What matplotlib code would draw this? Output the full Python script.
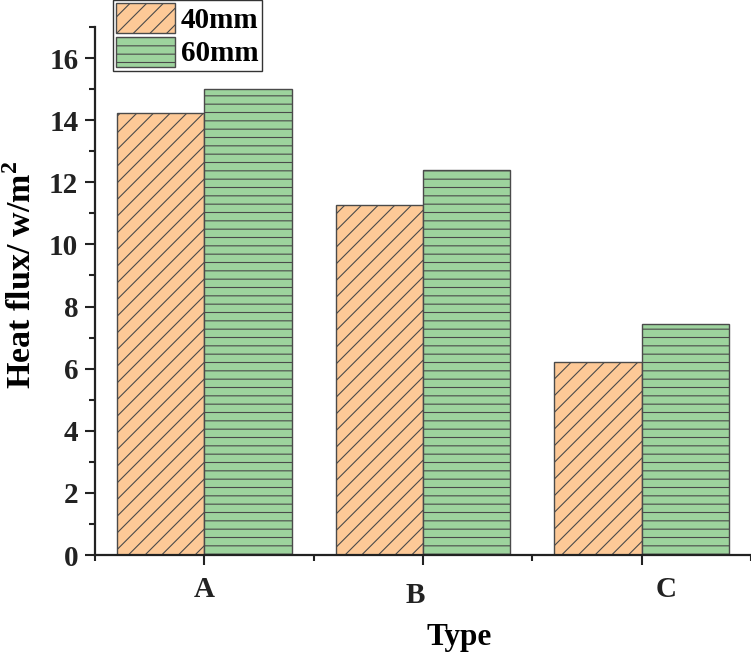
"""
plot.py — Heat flux by type, grouped bars for 40mm and 60mm
"""

import numpy as np
import matplotlib
matplotlib.use("Agg")
import matplotlib.pyplot as plt
import matplotlib.transforms as mtransforms
from matplotlib.ticker import MultipleLocator, FixedLocator

# Data
types = ["A", "B", "C"]
flux_40mm = [14.23, 11.28, 6.22]
flux_60mm = [15.01, 12.41, 7.43]
series_labels = ["40mm", "60mm"]

plt.rcParams["font.family"] = ["Liberation Serif", "DejaVu Serif"]
plt.rcParams["font.weight"] = "bold"
plt.rcParams["mathtext.fontset"] = "custom"
plt.rcParams["mathtext.rm"] = "Liberation Serif:bold"
plt.rcParams["mathtext.bf"] = "Liberation Serif:bold"
plt.rcParams["hatch.color"] = "#2a2a2a"
plt.rcParams["hatch.linewidth"] = 0.8

FS = 21

fig = plt.figure(figsize=(7.51, 6.54), dpi=100)
ax = fig.add_axes([95 / 751, 1 - 555 / 654, 1 - 95 / 751, (555 - 27) / 654])

x = np.arange(len(types))
w = 0.4
b1 = ax.bar(x - w / 2, flux_40mm, w, color="#fdc997", edgecolor="#4a4a4a",
            linewidth=1.0, hatch="//", label=series_labels[0])
b2 = ax.bar(x + w / 2, flux_60mm, w, color="#9dd39d", edgecolor="#4a4a4a",
            linewidth=1.0, hatch="--", label=series_labels[1])

ax.set_xlim(-0.5, 2.5)
ax.set_ylim(0, 17)
ax.yaxis.set_major_locator(MultipleLocator(2))
ax.yaxis.set_minor_locator(MultipleLocator(1))
ax.xaxis.set_major_locator(FixedLocator(x))
ax.xaxis.set_minor_locator(FixedLocator([-0.5, 0.5, 1.5, 2.5]))
ax.set_xticklabels(types)

for s in ("top", "right"):
    ax.spines[s].set_visible(False)
for s in ("left", "bottom"):
    ax.spines[s].set_linewidth(1.6)
    ax.spines[s].set_color("#222222")

ax.tick_params(axis="both", which="major", direction="out", length=7, width=1.5,
               labelsize=FS, colors="#222222")
ax.tick_params(axis="both", which="minor", direction="out", length=4, width=1.5,
               colors="#222222")
ax.tick_params(axis="x", which="major", pad=8)
ax.tick_params(axis="y", which="major", pad=5)
for lab in ax.get_xticklabels() + ax.get_yticklabels():
    lab.set_fontweight("bold")

# the category labels in the original sit slightly off their ticks
label_shift_px = [(0, 0), (-8, -6), (24, 0)]
for lab, (dx, dy) in zip(ax.get_xticklabels(), label_shift_px):
    off = mtransforms.ScaledTranslation(dx / 100, dy / 100, fig.dpi_scale_trans)
    lab.set_transform(lab.get_transform() + off)

ax.set_xlabel("Type", fontsize=22.5, fontweight="bold")
ax.xaxis.set_label_coords((459 - 95) / 656, -(637 - 555) / 528, transform=ax.transAxes)
ax.xaxis.label.set_va("center")
ax.set_ylabel(r"Heat flux/ w/m$^{\mathbf{2}}$", fontsize=24.5, fontweight="bold")
ax.yaxis.set_label_coords(-(95 - 22) / 656, (555 - 275) / 528, transform=ax.transAxes)
ax.yaxis.label.set_va("center")

leg = fig.legend(handles=[b1, b2], loc="upper left",
                 bbox_to_anchor=(113 / 751, 1.0),
                 prop={"weight": "bold", "size": FS},
                 frameon=True, fancybox=False, edgecolor="black",
                 handlelength=2.0, handleheight=1.2, handletextpad=0.2,
                 labelspacing=0.08, borderpad=0.12, borderaxespad=0.0)
leg.get_frame().set_linewidth(1.0)

fig.savefig("out.png", dpi=100)
